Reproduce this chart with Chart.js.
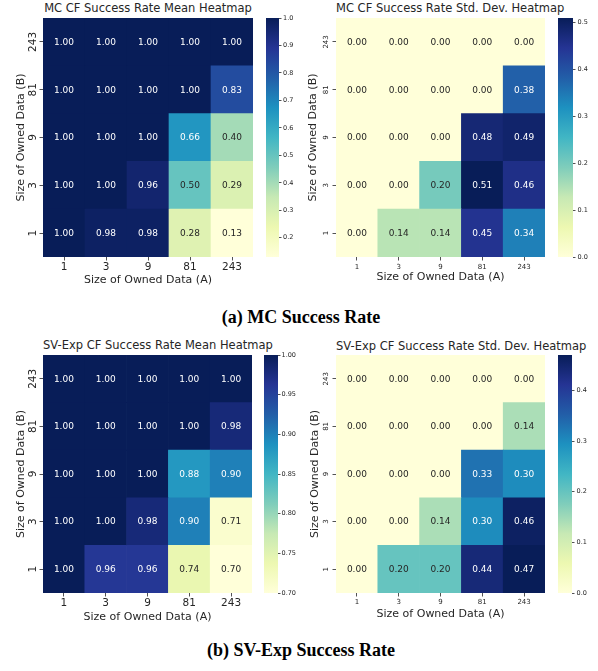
<!DOCTYPE html>
<html><head><meta charset="utf-8">
<script src="https://cdn.jsdelivr.net/npm/chart.js@4"></script>
<style>
body{margin:0;background:#fff;width:598px;height:671px;position:relative;overflow:hidden;font-family:"DejaVu Sans";}
canvas{position:absolute;}
.t{position:absolute;font-family:"DejaVu Sans";font-size:11.5px;line-height:14px;color:#262626;white-space:nowrap;text-align:center;}
.cap{position:absolute;left:2px;width:598px;text-align:center;font-family:"Liberation Serif";font-weight:bold;font-size:18px;line-height:18px;color:#000;white-space:nowrap;}
</style></head><body>
<div class="t" style="left:43px;width:210px;top:1px">MC CF Success Rate Mean Heatmap</div>
<div class="t" style="left:336px;width:209px;top:1px">MC CF Success Rate Std. Dev. Heatmap</div>
<div class="t" style="left:43px;width:209px;top:338px">SV-Exp CF Success Rate Mean Heatmap</div>
<div class="t" style="left:336px;width:209px;top:339px">SV-Exp CF Success Rate Std. Dev. Heatmap</div>
<div class="cap" style="top:308px">(a) MC Success Rate</div>
<div class="cap" style="top:641px">(b) SV-Exp Success Rate</div>
<canvas id="h1" width="260" height="290" style="left:0px;top:0px"></canvas>
<canvas id="c1" width="40" height="290" style="left:260px;top:0px"></canvas>
<canvas id="h2" width="250" height="290" style="left:300px;top:0px"></canvas>
<canvas id="c2" width="46" height="290" style="left:552px;top:0px"></canvas>
<canvas id="h3" width="260" height="300" style="left:0px;top:330px"></canvas>
<canvas id="c3" width="42" height="300" style="left:258px;top:330px"></canvas>
<canvas id="h4" width="250" height="300" style="left:300px;top:330px"></canvas>
<canvas id="c4" width="46" height="300" style="left:552px;top:330px"></canvas>
<script>
// Categories
const sizeA = ['1','3','9','81','243'];   // x: Size of Owned Data (A)
const sizeB = ['1','3','9','81','243'];   // y: Size of Owned Data (B), bottom to top

// Values: rows ordered by B ascending (B=1 first), columns by A
const mcMean = [
  [1.00,0.98,0.98,0.28,0.13],
  [1.00,1.00,0.96,0.50,0.29],
  [1.00,1.00,1.00,0.66,0.40],
  [1.00,1.00,1.00,1.00,0.83],
  [1.00,1.00,1.00,1.00,1.00]
];
const mcStd = [
  [0.00,0.14,0.14,0.45,0.34],
  [0.00,0.00,0.20,0.51,0.46],
  [0.00,0.00,0.00,0.48,0.49],
  [0.00,0.00,0.00,0.00,0.38],
  [0.00,0.00,0.00,0.00,0.00]
];
const svMean = [
  [1.00,0.96,0.96,0.74,0.70],
  [1.00,1.00,0.98,0.90,0.71],
  [1.00,1.00,1.00,0.88,0.90],
  [1.00,1.00,1.00,1.00,0.98],
  [1.00,1.00,1.00,1.00,1.00]
];
const svStd = [
  [0.00,0.20,0.20,0.44,0.47],
  [0.00,0.00,0.14,0.30,0.46],
  [0.00,0.00,0.00,0.33,0.30],
  [0.00,0.00,0.00,0.00,0.14],
  [0.00,0.00,0.00,0.00,0.00]
];

// Colorbar tick values
const cbTicksMcMean = [0.2,0.3,0.4,0.5,0.6,0.7,0.8,0.9,1.0];
const cbTicksMcStd  = [0.0,0.1,0.2,0.3,0.4,0.5];
const cbTicksSvMean = [0.70,0.75,0.80,0.85,0.90,0.95,1.00];
const cbTicksSvStd  = [0.0,0.1,0.2,0.3,0.4];

const YLGNBU = ['#ffffd9','#edf8b1','#c7e9b4','#7fcdbb','#41b6c4','#1d91c0','#225ea8','#253494','#081d58'];
const FONT = 'DejaVu Sans';
const INK = '#262626';

function hexRgb(h){return [parseInt(h.slice(1,3),16),parseInt(h.slice(3,5),16),parseInt(h.slice(5,7),16)];}
function cmapRgb(t){
  t = Math.max(0, Math.min(1, t));
  const s = t*8, i = Math.min(7, Math.floor(s)), f = s - i;
  const a = hexRgb(YLGNBU[i]), b = hexRgb(YLGNBU[i+1]);
  return a.map((v,k)=>Math.round(v + (b[k]-v)*f));
}
function lum(rgb){
  const c = rgb.map(v=>{v/=255; return v<=0.03928 ? v/12.92 : Math.pow((v+0.055)/1.055,2.4);});
  return 0.2126*c[0]+0.7152*c[1]+0.0722*c[2];
}
function range(m){const f=m.flat(); return [Math.min(...f), Math.max(...f)];}

const annotPlugin = {
  id:'annot',
  afterDatasetsDraw(chart){
    const o = chart.options.plugins.annot;
    if(!o) return;
    const ctx = chart.ctx;
    ctx.save();
    ctx.font = '9px "'+FONT+'"';
    ctx.textAlign='center'; ctx.textBaseline='middle';
    chart.data.datasets.forEach((ds,d)=>{
      chart.getDatasetMeta(d).data.forEach((el,i)=>{
        const v = ds.values[i];
        const rgb = cmapRgb((v-o.vmin)/(o.vmax-o.vmin));
        ctx.fillStyle = lum(rgb) > 0.408 ? INK : '#ffffff';
        ctx.fillText(v.toFixed(2), el.x, (el.y+el.base)/2 + 0.5);
      });
    });
    ctx.restore();
  }
};

function heatmap(id, matrix, p){
  const [vmin,vmax] = range(matrix);
  const [ax0,ay0,ax1,ay1] = p.area;
  const datasets = matrix.map((row,r)=>({
    values: row,
    data: row.map(()=>[r-0.5, r+0.5]),
    backgroundColor: row.map(v=>'rgb('+cmapRgb((v-vmin)/(vmax-vmin)).join(',')+')'),
    borderWidth:0, grouped:false, barPercentage:1, categoryPercentage:1
  }));
  new Chart(document.getElementById(id), {
    type:'bar',
    data:{labels:sizeA, datasets},
    plugins:[annotPlugin],
    options:{
      responsive:false, animation:false, events:[],
      layout:{padding:{left:0, top:ay0-p.T, right:(p.L+p.W)-ax1, bottom:0}},
      plugins:{legend:{display:false}, tooltip:{enabled:false}, title:{display:false}, annot:{vmin,vmax}},
      scales:{
        x:{
          type:'category', offset:true,
          grid:{display:true, drawOnChartArea:false, drawTicks:true, tickLength:3.5, color:INK, lineWidth:0.8, offset:false},
          border:{display:false},
          ticks:{font:{family:FONT,size:p.tf}, color:INK, padding:p.xtp, maxRotation:0, minRotation:0},
          title:{display:true, text:'Size of Owned Data (A)', color:INK, font:{family:FONT,size:11}, padding:{top:0,bottom:p.xtt}},
          afterFit(s){ s.height = (p.T+p.H) - ay1; }
        },
        y:{
          type:'linear', min:-0.5, max:4.5,
          afterBuildTicks(s){ s.ticks = sizeB.map((_,i)=>({value:i})); },
          grid:{display:true, drawOnChartArea:false, drawTicks:true, tickLength:3.5, color:INK, lineWidth:0.8},
          border:{display:false},
          ticks:{font:{family:FONT,size:p.tf}, color:INK, padding:p.ytp, minRotation:90, maxRotation:90, crossAlign:'center',
                 callback:(v)=>sizeB[v]},
          title:{display:true, text:'Size of Owned Data (B)', color:INK, font:{family:FONT,size:11}, padding:{top:p.ytt,bottom:0}},
          afterFit(s){ s.width = ax0 - p.L; }
        }
      }
    }
  });
}

function colorbar(id, matrix, ticks, dec, p){
  const [vmin,vmax] = range(matrix);
  const [ax0,ax1] = p.ax, [ay0,ay1] = p.ay;
  new Chart(document.getElementById(id), {
    type:'bar',
    data:{labels:['cb'], datasets:[{
      data:[[vmin,vmax]], borderWidth:0, barPercentage:1, categoryPercentage:1,
      backgroundColor:(c)=>{
        const a = c.chart.chartArea;
        if(!a) return YLGNBU[0];
        const g = c.chart.ctx.createLinearGradient(0,a.bottom,0,a.top);
        YLGNBU.forEach((col,i)=>g.addColorStop(i/8,col));
        return g;
      }
    }]},
    options:{
      responsive:false, animation:false, events:[],
      layout:{padding:{left:ax0-p.L, top:ay0-p.T, right:0, bottom:(p.T+p.H)-ay1}},
      plugins:{legend:{display:false}, tooltip:{enabled:false}},
      scales:{
        x:{display:false, offset:true},
        y:{
          position:'right', min:vmin, max:vmax,
          afterBuildTicks(s){ s.ticks = ticks.map(v=>({value:v})); },
          grid:{display:true, drawOnChartArea:false, drawTicks:true, tickLength:2.5, color:INK, lineWidth:0.8},
          border:{display:false},
          ticks:{font:{family:FONT,size:6.5}, color:INK, padding:p.tp, callback:(v)=>Number(v).toFixed(dec)},
          afterFit(s){ s.width = (p.L+p.W) - ax1; }
        }
      }
    }
  });
}

heatmap('h1', mcMean, {L:0,T:0,W:260,H:290, area:[43,18,253,257], tf:10.5, ytp:-3.5, xtp:0, ytt:14.4, xtt:3.4});
heatmap('h2', mcStd,  {L:300,T:0,W:250,H:290, area:[336,18,545,257], tf:7, ytp:-0.5, xtp:2.8, ytt:6.4, xtt:5.9});
heatmap('h3', svMean, {L:0,T:330,W:260,H:300, area:[43,355,252,593], tf:10.5, ytp:-3.5, xtp:0, ytt:14.4, xtt:6.4});
heatmap('h4', svStd,  {L:300,T:330,W:250,H:300, area:[336,355,545,593], tf:7, ytp:-0.5, xtp:1.3, ytt:8.4, xtt:8.9});

colorbar('c1', mcMean, cbTicksMcMean, 1, {L:260,T:0,W:40,H:290, ax:[266,279], ay:[18,257], tp:1.5});
colorbar('c2', mcStd,  cbTicksMcStd, 1,  {L:552,T:0,W:46,H:290, ax:[558,573], ay:[18,257], tp:2});
colorbar('c3', svMean, cbTicksSvMean, 2, {L:258,T:330,W:42,H:300, ax:[264,278], ay:[355,593], tp:1});
colorbar('c4', svStd,  cbTicksSvStd, 1,  {L:552,T:330,W:46,H:300, ax:[558,572], ay:[355,593], tp:2});
</script>
</body></html>
